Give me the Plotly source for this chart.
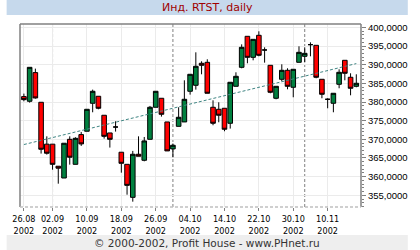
import plotly.graph_objects as go

# ---------------- data ----------------
dates = [
    "2002-08-26", "2002-08-27", "2002-08-28", "2002-08-29", "2002-08-30",
    "2002-09-02", "2002-09-03", "2002-09-04", "2002-09-05", "2002-09-06",
    "2002-09-09", "2002-09-10", "2002-09-11", "2002-09-12", "2002-09-13",
    "2002-09-16", "2002-09-17", "2002-09-18", "2002-09-19", "2002-09-20",
    "2002-09-23", "2002-09-24", "2002-09-25", "2002-09-26", "2002-09-27",
    "2002-09-30", "2002-10-01", "2002-10-02", "2002-10-03", "2002-10-04",
    "2002-10-07", "2002-10-08", "2002-10-09", "2002-10-10", "2002-10-11",
    "2002-10-14", "2002-10-15", "2002-10-16", "2002-10-17", "2002-10-18",
    "2002-10-21", "2002-10-22", "2002-10-23", "2002-10-24", "2002-10-25",
    "2002-10-28", "2002-10-29", "2002-10-30", "2002-10-31", "2002-11-01",
    "2002-11-04", "2002-11-05", "2002-11-06", "2002-11-10", "2002-11-11",
    "2002-11-12", "2002-11-13", "2002-11-14", "2002-11-15",
]

opens = [381.45, 380.20, 387.88, 379.93, 368.70, 368.70, 362.79, 359.63, 370.00, 363.30,
         371.27, 372.16, 379.66, 381.54, 376.45, 371.71, 373.30, 366.54, 363.30, 354.45,
         366.00, 364.38, 370.00, 378.59, 381.00, 374.66, 367.43, 373.48, 374.66, 382.88,
         384.48, 390.38, 390.64, 378.59, 378.05, 378.32, 374.30, 384.21, 389.30, 397.61,
         391.98, 397.88, 393.95, 389.84, 381.00, 386.09, 388.50, 383.95, 390.64, 392.25,
         395.38, 395.20, 386.09, 380.73, 379.66, 384.75, 391.18, 386.63, 384.21]
highs = [382.25, 389.30, 388.95, 379.93, 370.80, 368.70, 362.79, 368.95, 370.80, 370.54,
         371.98, 378.05, 383.32, 381.54, 376.45, 371.71, 374.84, 366.54, 363.30, 366.89,
         370.80, 370.63, 378.95, 382.88, 381.00, 374.66, 368.86, 378.59, 385.82, 387.43,
         393.32, 390.91, 391.45, 380.46, 379.93, 378.32, 385.29, 387.96, 395.46, 397.61,
         396.80, 398.95, 394.66, 389.84, 384.21, 390.11, 389.04, 388.77, 394.93, 394.66,
         396.00, 395.20, 386.09, 381.00, 382.34, 388.77, 391.18, 387.70, 387.43]
lows = [380.20, 379.84, 380.91, 366.18, 365.91, 361.86, 358.11, 359.63, 363.21, 363.30,
        368.23, 372.16, 377.25, 378.05, 370.18, 367.79, 372.07, 361.06, 355.16, 353.29,
        365.46, 364.11, 370.00, 378.59, 376.09, 366.89, 365.20, 373.48, 374.66, 381.98,
        383.32, 387.43, 382.34, 373.77, 374.57, 372.16, 372.88, 384.21, 389.04, 390.38,
        391.18, 392.25, 390.55, 382.34, 380.73, 385.56, 383.41, 381.27, 390.64, 390.64,
        392.25, 386.36, 381.00, 378.32, 377.25, 383.68, 385.82, 381.80, 383.95]
closes = [380.64, 389.30, 381.09, 367.34, 366.27, 363.30, 362.26, 368.95, 365.20, 370.27,
          368.77, 378.05, 382.88, 378.32, 370.80, 370.00, 373.30, 363.57, 357.66, 366.00,
          365.46, 369.57, 378.59, 382.88, 376.71, 366.89, 368.41, 375.91, 380.73, 387.43,
          389.57, 389.84, 382.34, 374.30, 376.45, 372.70, 385.29, 386.89, 394.66, 391.98,
          396.80, 392.52, 393.95, 382.61, 384.21, 388.50, 384.21, 388.77, 393.32, 393.05,
          395.38, 386.63, 382.07, 380.73, 382.34, 387.96, 387.70, 383.68, 385.02]

trend_dates = ["2002-08-26", "2002-11-15"]
trend_values = [368.6, 390.3]

x_tick_dates = ["2002-08-26", "2002-09-02", "2002-09-10", "2002-09-18", "2002-09-26",
                "2002-10-04", "2002-10-14", "2002-10-22", "2002-10-30", "2002-11-10"]
x_tick_labels = [d[8:10] + "." + d[5:7] + "<br>" + d[0:4] for d in x_tick_dates]
month_start_dates = ["2002-09-02", "2002-10-01", "2002-11-01"]
y_tick_vals = [355, 360, 365, 370, 375, 380, 385, 390, 395, 400]

title_text = "Инд. RTST, daily"
footer_text = "© 2000-2002, Profit House - www.PHnet.ru"

# ---------------- layout geometry ----------------
W, H = 420, 250
ML, MR, MT, MB = 14, 49, 24, 43
PW, PH = W - ML - MR, H - MT - MB


def px_x(p):
    return (p - ML) / PW


def px_y(p):
    return 1 - (p - MT) / PH


fig = go.Figure()

fig.add_trace(go.Scatter(
    x=trend_dates, y=trend_values, mode="lines",
    line=dict(color="#3F8583", width=1, dash="3px,2px"),
    hoverinfo="skip", showlegend=False,
))

fig.add_trace(go.Candlestick(
    x=dates, open=opens, high=highs, low=lows, close=closes,
    increasing=dict(fillcolor="#00803F", line=dict(color="#000000", width=1)),
    decreasing=dict(fillcolor="#FF0000", line=dict(color="#000000", width=1)),
    whiskerwidth=0, showlegend=False, hoverinfo="skip",
))

shapes = []
# header and footer bands
shapes.append(dict(type="rect", xref="paper", yref="paper",
                   x0=px_x(0), x1=px_x(W), y0=px_y(0), y1=px_y(15),
                   fillcolor="#C6D9EC", line=dict(width=0), layer="below"))
shapes.append(dict(type="rect", xref="paper", yref="paper",
                   x0=px_x(0), x1=px_x(W), y0=px_y(235), y1=px_y(H),
                   fillcolor="#EEEEEE", line=dict(width=0), layer="below"))
# month separators
for d in month_start_dates:
    shapes.append(dict(type="line", xref="x", yref="paper", x0=d, x1=d, y0=0, y1=1,
                       line=dict(color="#808080", width=1, dash="3px,2px"), layer="between"))
# frame
shapes.append(dict(type="line", xref="paper", yref="paper", x0=0, x1=1, y0=1, y1=1,
                   line=dict(color="#808080", width=1.5)))
shapes.append(dict(type="line", xref="paper", yref="paper", x0=0, x1=0, y0=0, y1=1,
                   line=dict(color="#808080", width=1.5)))
shapes.append(dict(type="line", xref="paper", yref="paper", x0=1, x1=1, y0=0, y1=1,
                   line=dict(color="#808080", width=1.5)))
shapes.append(dict(type="line", xref="paper", yref="paper", x0=0, x1=1, y0=0, y1=0,
                   line=dict(color="#C0C0C0", width=1.5, dash="3px,2px")))

annotations = [
    dict(text=title_text, xref="paper", yref="paper", x=px_x(W / 2), y=px_y(7.5),
         xanchor="center", yanchor="middle", showarrow=False,
         font=dict(family="DejaVu Sans", size=11, color="#A00000")),
    dict(text=footer_text, xref="paper", yref="paper", x=px_x(W / 2), y=px_y(243),
         xanchor="center", yanchor="middle", showarrow=False,
         font=dict(family="DejaVu Sans", size=10.5, color="#333333")),
]

fig.update_layout(
    width=W, height=H,
    margin=dict(l=ML, r=MR, t=MT, b=MB, pad=0),
    paper_bgcolor="#FFFFFF", plot_bgcolor="#FFFFFF",
    separators=", ",
    boxgap=0.2, boxgroupgap=0,
    shapes=shapes,
    annotations=annotations,
    showlegend=False,
    hovermode=False,
)

fig.update_xaxes(
    type="category", categoryorder="array", categoryarray=dates,
    range=[-0.68, 58.82],
    rangeslider=dict(visible=False),
    tickmode="array", tickvals=x_tick_dates, ticktext=x_tick_labels,
    ticks="outside", ticklen=3, tickcolor="#808080", tickwidth=1,
    showgrid=True, gridcolor="#EBEBEB", gridwidth=1,
    showline=False, zeroline=False,
    tickfont=dict(family="Liberation Sans Narrow, DejaVu Sans Condensed, Liberation Sans",
                  size=9, color="#000000"),
)

fig.update_yaxes(
    side="right", range=[351.86, 400.91],
    tickmode="array", tickvals=y_tick_vals, tickformat=".4f",
    ticks="outside", ticklen=4, tickcolor="#808080", tickwidth=1,
    minor=dict(ticks="outside", ticklen=2, tickcolor="#808080", dtick=1, showgrid=False),
    showgrid=True, gridcolor="#EBEBEB", gridwidth=1,
    showline=False, zeroline=False,
    tickfont=dict(family="Liberation Sans", size=9.5, color="#000000"),
)

fig.write_html("out.html")
